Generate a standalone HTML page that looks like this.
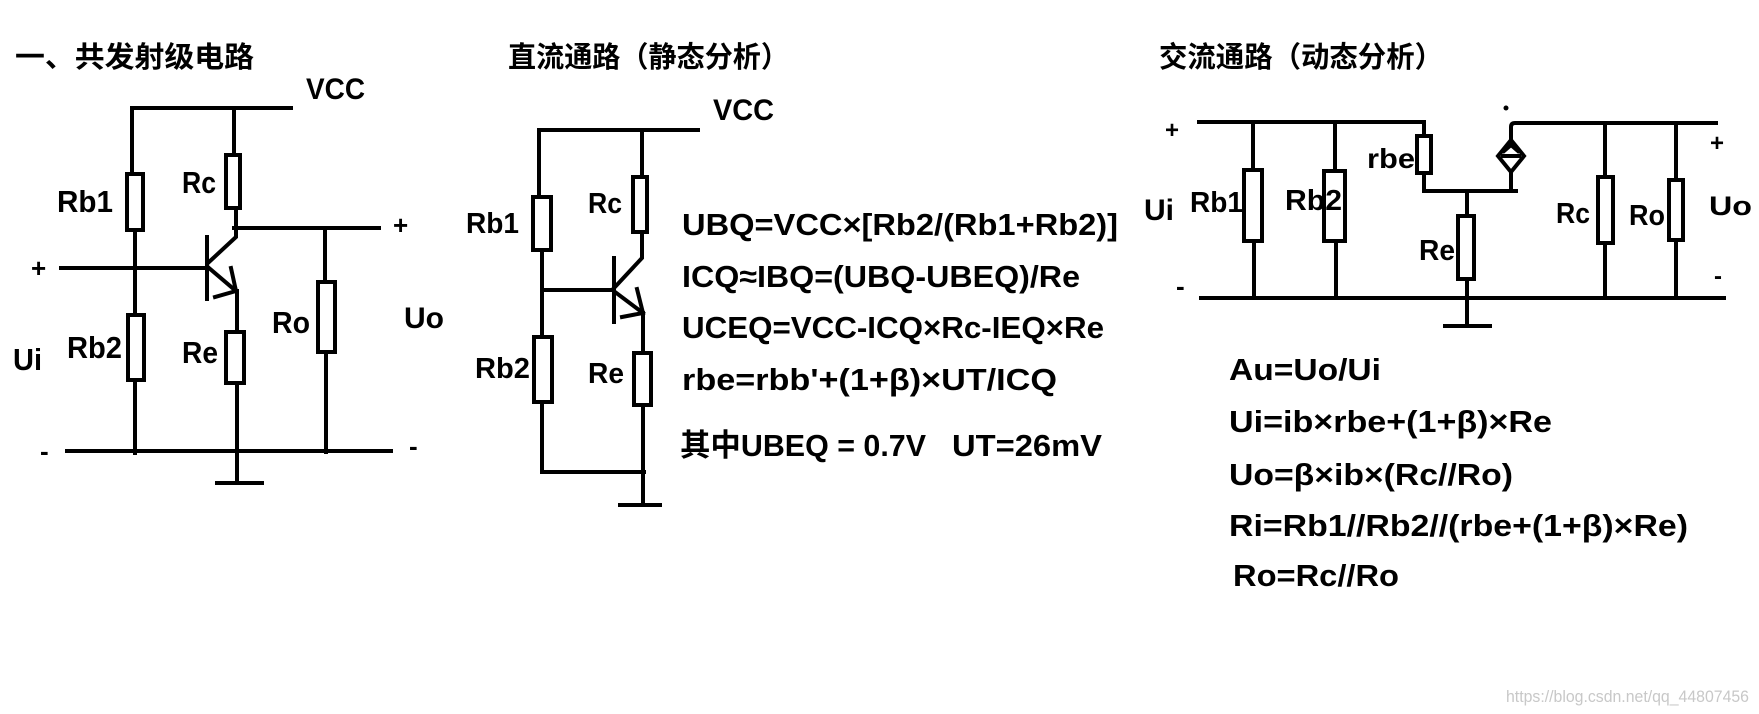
<!DOCTYPE html>
<html><head><meta charset="utf-8"><style>
html,body{margin:0;padding:0;background:#fff;}
svg{display:block}
text{font-family:"Liberation Sans","Noto Sans CJK SC",sans-serif;font-weight:bold;fill:#000;}
</style></head><body>
<svg width="1759" height="714" viewBox="0 0 1759 714" xmlns="http://www.w3.org/2000/svg">
<g stroke="#000" stroke-width="4" fill="none" stroke-linecap="square">
<!-- LEFT circuit -->
<path d="M132 174 V108 H291"/>
<rect x="127" y="174" width="16" height="56"/>
<path d="M135 230 V315"/>
<rect x="128" y="315" width="16" height="65"/>
<path d="M135 380 V453"/>
<path d="M234 108 V155"/>
<rect x="226" y="155" width="14" height="53"/>
<path d="M236 208 V228 M234 228 H379"/>
<path d="M325 228 V282"/>
<rect x="318" y="282" width="17" height="70"/>
<path d="M326 352 V452"/>
<path d="M207 237 V299"/>
<path d="M61 268 H207"/>
<path d="M209 262 L236 237 V228"/>
<path d="M209 268 L236 291"/>
<path d="M231 268 L236 291 L215 297"/>
<path d="M237 291 V332"/>
<rect x="226" y="332" width="18" height="51"/>
<path d="M237 383 V483 M217 483 H262"/>
<path d="M67 451 H391"/>
<!-- MIDDLE circuit -->
<path d="M539 197 V130 H698"/>
<rect x="533" y="197" width="18" height="53"/>
<path d="M542 250 V337 M542 290 H614"/>
<rect x="534" y="337" width="18" height="65"/>
<path d="M542 402 V472 H644"/>
<path d="M643 472 V505 M620 505 H660"/>
<path d="M642 130 V177"/>
<rect x="633" y="177" width="14" height="55"/>
<path d="M642 232 V258 L614 288"/>
<path d="M614 258 V322"/>
<path d="M615 292 L643 313 M637 289 L643 313 L622 317"/>
<path d="M643 313 V353"/>
<rect x="634" y="353" width="17" height="52"/>
<path d="M643 405 V472"/>
<!-- RIGHT circuit -->
<path d="M1199 122 H1424 V136"/>
<path d="M1253 122 V170"/>
<rect x="1244" y="170" width="18" height="71"/>
<path d="M1254 241 V298"/>
<path d="M1335 122 V171"/>
<rect x="1324" y="171" width="21" height="70"/>
<path d="M1336 241 V298"/>
<rect x="1417" y="136" width="14" height="37"/>
<path d="M1424 173 V191 H1516"/>
<path d="M1467 191 V216"/>
<rect x="1458" y="216" width="16" height="63"/>
<path d="M1467 279 V326 M1445 326 H1490"/>
<path d="M1511 191 V172 M1511 140 V127 Q1511 123 1515 123 H1716"/>
<path d="M1511 140 L1524 156 L1511 172 L1498 156 Z"/>
<path d="M1503 156 H1519 M1504 151 L1511 145 L1518 151"/>
<path d="M1605 123 V177"/>
<rect x="1598" y="177" width="15" height="66"/>
<path d="M1605 243 V298"/>
<path d="M1676 123 V180"/>
<rect x="1669" y="180" width="14" height="60"/>
<path d="M1676 240 V298"/>
<path d="M1201 298 H1724"/>
</g>
<circle cx="1506" cy="108" r="2.5" fill="#000"/>

<!-- titles -->
<text x="15" y="67" font-size="29" textLength="239" lengthAdjust="spacingAndGlyphs">一、共发射级电路</text>
<text x="508" y="67" font-size="29" textLength="281" lengthAdjust="spacingAndGlyphs">直流通路（静态分析）</text>
<text x="1159" y="67" font-size="29" textLength="284" lengthAdjust="spacingAndGlyphs">交流通路（动态分析）</text>

<!-- left labels -->
<text x="306" y="99" font-size="30" textLength="59" lengthAdjust="spacingAndGlyphs">VCC</text>
<text x="57" y="212" font-size="31" textLength="56" lengthAdjust="spacingAndGlyphs">Rb1</text>
<text x="182" y="193" font-size="31" textLength="34" lengthAdjust="spacingAndGlyphs">Rc</text>
<text x="67" y="358" font-size="31" textLength="55" lengthAdjust="spacingAndGlyphs">Rb2</text>
<text x="182" y="363" font-size="31" textLength="36" lengthAdjust="spacingAndGlyphs">Re</text>
<text x="272" y="333" font-size="31" textLength="38" lengthAdjust="spacingAndGlyphs">Ro</text>
<text x="404" y="328" font-size="30" textLength="40" lengthAdjust="spacingAndGlyphs">Uo</text>
<text x="13" y="370" font-size="31" textLength="29" lengthAdjust="spacingAndGlyphs">Ui</text>
<text x="31" y="277" font-size="26">+</text>
<text x="393" y="234" font-size="26">+</text>
<text x="40" y="460" font-size="26">-</text>
<text x="409" y="455" font-size="26">-</text>

<!-- middle labels -->
<text x="713" y="120" font-size="30" textLength="61" lengthAdjust="spacingAndGlyphs">VCC</text>
<text x="466" y="233" font-size="29" textLength="53" lengthAdjust="spacingAndGlyphs">Rb1</text>
<text x="588" y="213" font-size="29" textLength="34" lengthAdjust="spacingAndGlyphs">Rc</text>
<text x="475" y="378" font-size="29" textLength="55" lengthAdjust="spacingAndGlyphs">Rb2</text>
<text x="588" y="383" font-size="29" textLength="36" lengthAdjust="spacingAndGlyphs">Re</text>
<text x="682" y="235" font-size="31" textLength="436" lengthAdjust="spacingAndGlyphs">UBQ=VCC×[Rb2/(Rb1+Rb2)]</text>
<text x="682" y="287" font-size="31" textLength="398" lengthAdjust="spacingAndGlyphs">ICQ≈IBQ=(UBQ-UBEQ)/Re</text>
<text x="682" y="338" font-size="31" textLength="422" lengthAdjust="spacingAndGlyphs">UCEQ=VCC-ICQ×Rc-IEQ×Re</text>
<text x="682" y="390" font-size="31" textLength="375" lengthAdjust="spacingAndGlyphs">rbe=rbb'+(1+β)×UT/ICQ</text>
<text x="680" y="456" font-size="31" textLength="246" lengthAdjust="spacingAndGlyphs">其中UBEQ = 0.7V</text>
<text x="952" y="456" font-size="31" textLength="150" lengthAdjust="spacingAndGlyphs">UT=26mV</text>

<!-- right labels -->
<text x="1165" y="138" font-size="24">+</text>
<text x="1176" y="295" font-size="26">-</text>
<text x="1144" y="220" font-size="30" textLength="30" lengthAdjust="spacingAndGlyphs">Ui</text>
<text x="1190" y="212" font-size="29" textLength="53" lengthAdjust="spacingAndGlyphs">Rb1</text>
<text x="1285" y="210" font-size="29" textLength="57" lengthAdjust="spacingAndGlyphs">Rb2</text>
<text x="1367" y="168" font-size="28" textLength="48" lengthAdjust="spacingAndGlyphs">rbe</text>
<text x="1419" y="260" font-size="29" textLength="36" lengthAdjust="spacingAndGlyphs">Re</text>
<text x="1556" y="223" font-size="29" textLength="34" lengthAdjust="spacingAndGlyphs">Rc</text>
<text x="1629" y="225" font-size="29" textLength="36" lengthAdjust="spacingAndGlyphs">Ro</text>
<text x="1709" y="215" font-size="27" textLength="43" lengthAdjust="spacingAndGlyphs">Uo</text>
<text x="1710" y="151" font-size="24">+</text>
<text x="1714" y="284" font-size="24">-</text>
<text x="1229" y="380" font-size="31" textLength="152" lengthAdjust="spacingAndGlyphs">Au=Uo/Ui</text>
<text x="1229" y="432" font-size="31" textLength="323" lengthAdjust="spacingAndGlyphs">Ui=ib×rbe+(1+β)×Re</text>
<text x="1229" y="485" font-size="31" textLength="284" lengthAdjust="spacingAndGlyphs">Uo=β×ib×(Rc//Ro)</text>
<text x="1229" y="536" font-size="31" textLength="459" lengthAdjust="spacingAndGlyphs">Ri=Rb1//Rb2//(rbe+(1+β)×Re)</text>
<text x="1233" y="586" font-size="31" textLength="166" lengthAdjust="spacingAndGlyphs">Ro=Rc//Ro</text>
<text x="1506" y="702" font-size="17" style="font-weight:normal;fill:#c8c8c8" textLength="243" lengthAdjust="spacingAndGlyphs">https://blog.csdn.net/qq_44807456</text>
</svg>
</body></html>
